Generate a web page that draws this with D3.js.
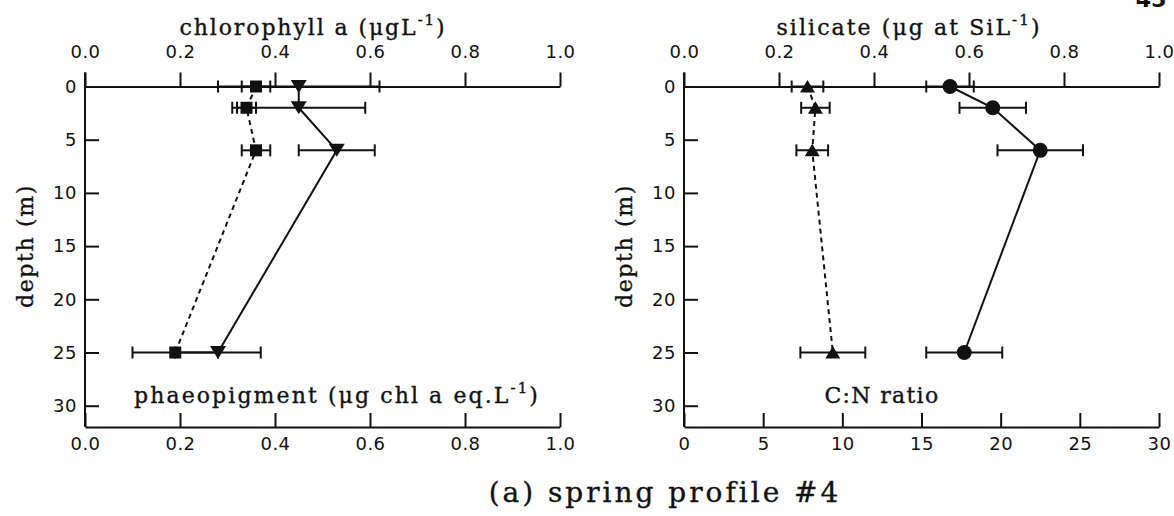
<!DOCTYPE html>
<html>
<head>
<meta charset="utf-8">
<script src="https://cdn.jsdelivr.net/npm/d3@7"></script>
<style>
  html, body { margin: 0; padding: 0; background: #fff; }
  svg { display: block; }
  .tick text { font-family: "DejaVu Sans", sans-serif; font-size: 18px; letter-spacing: 0.5px; fill: #111; }
  .ttl { font-family: "DejaVu Serif", serif; fill: #111; stroke: #111; stroke-width: 0.35px; }
</style>
</head>
<body>
<svg id="chart" width="1174" height="516"></svg>
<script>
// ---- data ----
const depths = [0, 2, 6, 25];
// left panel
const chlorophyll = [0.45, 0.45, 0.53, 0.28];      // inverted triangles, solid line
const chlorophyllErr = [0.17, 0.14, 0.08, 0.09];
const phaeopigment = [0.36, 0.34, 0.36, 0.19];     // squares, dashed line
const phaeopigmentErr = [0.03, 0.02, 0.03, 0.09];
// right panel
const silicate = [0.56, 0.65, 0.75, 0.59];         // circles, solid line
const silicateErr = [0.05, 0.07, 0.09, 0.08];
const cnRatio = [7.8, 8.3, 8.1, 9.4];              // triangles, dashed line
const cnRatioErr = [1.0, 0.9, 1.0, 2.05];

const depthTicks = [0, 5, 10, 15, 20, 25, 30];
const fracTicks = [0, 0.2, 0.4, 0.6, 0.8, 1.0];
const cnTicks = [0, 5, 10, 15, 20, 25, 30];

const svg = d3.select("#chart");
const ink = "#111";
const y = d3.scaleLinear().domain([0, 32]).range([86.5, 427]);

// stretch a text to a target width by letter-spacing
function fitWidth(sel, target) {
  const node = sel.node();
  const w = node.getComputedTextLength();
  const n = node.textContent.length;
  const ls = (target - w) / n;
  sel.style("letter-spacing", ls.toFixed(2) + "px");
}

function panel(opts) {
  const g = svg.append("g");
  const xTop = d3.scaleLinear().domain([0, 1]).range([opts.x0, opts.x1]);
  const xBot = d3.scaleLinear().domain(opts.botDomain).range([opts.x0, opts.x1]);

  const top = g.append("g").attr("transform", `translate(0,${y(0)})`)
    .call(d3.axisTop(xTop).tickValues(fracTicks).tickFormat(d3.format(".1f"))
      .tickSizeInner(14).tickSizeOuter(0).tickPadding(15));
  const bot = g.append("g").attr("transform", `translate(0,${y(32)})`)
    .call(d3.axisBottom(xBot).tickValues(opts.botTicks).tickFormat(opts.botFormat)
      .tickSizeInner(-14).tickSizeOuter(0).tickPadding(10));
  const left = g.append("g").attr("transform", `translate(${opts.x0},0)`)
    .call(d3.axisLeft(y).tickValues(depthTicks).tickSizeInner(-14).tickSizeOuter(0).tickPadding(8));
  left.select(".domain").attr("d", `M0,${y(0) - 14}V${y(32)}`);
  [top, bot, left].forEach(a => {
    a.selectAll("line,path").attr("stroke", ink).attr("stroke-width", 2);
  });

  const t1 = g.append("text").attr("class", "ttl").attr("x", opts.x0 + opts.topTitleDx).attr("y", 35)
    .attr("text-anchor", "middle").style("font-size", "22px");
  opts.topTitle(t1);
  fitWidth(t1, opts.topTitleW);
  const t2 = g.append("text").attr("class", "ttl").attr("x", opts.x0 + opts.botTitleDx).attr("y", 403)
    .attr("text-anchor", "middle").style("font-size", "22px");
  opts.botTitle(t2);
  fitWidth(t2, opts.botTitleW);

  const dl = g.append("text").attr("class", "ttl")
    .attr("transform", `translate(${opts.x0 - 52},${y(15)}) rotate(-90)`)
    .attr("text-anchor", "middle").style("font-size", "22px").text("depth (m)");
  fitWidth(dl, 124);

  opts.series.forEach(s => {
    const xs = s.axis === "top" ? xTop : xBot;
    const pts = depths.map((d, i) => ({ d, v: s.values[i], e: s.err[i] }));
    g.append("path").datum(pts)
      .attr("d", d3.line().x(p => xs(p.v)).y(p => y(p.d)))
      .attr("fill", "none").attr("stroke", ink).attr("stroke-width", 2)
      .attr("stroke-dasharray", s.dashed ? "5,4" : null);
    const eb = g.append("g").selectAll("g").data(pts).join("g");
    eb.append("line").attr("x1", p => xs(p.v - p.e)).attr("x2", p => xs(p.v + p.e))
      .attr("y1", p => y(p.d)).attr("y2", p => y(p.d)).attr("stroke", ink).attr("stroke-width", 2);
    eb.append("line").attr("x1", p => xs(p.v - p.e)).attr("x2", p => xs(p.v - p.e))
      .attr("y1", p => y(p.d) - 6).attr("y2", p => y(p.d) + 6).attr("stroke", ink).attr("stroke-width", 2);
    eb.append("line").attr("x1", p => xs(p.v + p.e)).attr("x2", p => xs(p.v + p.e))
      .attr("y1", p => y(p.d) - 6).attr("y2", p => y(p.d) + 6).attr("stroke", ink).attr("stroke-width", 2);
    const mk = g.append("g").selectAll("path").data(pts).join("path")
      .attr("transform", p => `translate(${xs(p.v)},${y(p.d)})`)
      .attr("fill", ink);
    if (s.marker === "square") mk.attr("d", "M-6,-6H6V6H-6Z");
    if (s.marker === "tridown") mk.attr("d", "M-8,-6.5H8L0,6.5Z");
    if (s.marker === "triup") mk.attr("d", "M-7.5,6H7.5L0,-6.5Z");
    if (s.marker === "circle") mk.attr("d", d3.symbol(d3.symbolCircle, Math.PI * 7.5 * 7.5)());
  });
}

function sup(t, before, exp, after) {
  t.append("tspan").text(before);
  t.append("tspan").attr("dy", -10).style("font-size", "15px").text(exp);
  t.append("tspan").attr("dy", 10).text(after);
}

panel({
  x0: 85, x1: 560, botDomain: [0, 1], botTicks: fracTicks, botFormat: d3.format(".1f"),
  topTitleDx: 228, botTitleDx: 252, topTitleW: 267, botTitleW: 406,
  topTitle: t => sup(t, "chlorophyll a (μgL", "-1", ")"),
  botTitle: t => sup(t, "phaeopigment (μg chl a eq.L", "-1", ")"),
  series: [
    { values: phaeopigment, err: phaeopigmentErr, axis: "bottom", dashed: true, marker: "square" },
    { values: chlorophyll, err: chlorophyllErr, axis: "top", dashed: false, marker: "tridown" }
  ]
});

panel({
  x0: 684, x1: 1159, botDomain: [0, 30], botTicks: cnTicks, botFormat: d3.format("d"),
  topTitleDx: 225, botTitleDx: 198, topTitleW: 265, botTitleW: 115,
  topTitle: t => sup(t, "silicate (μg at SiL", "-1", ")"),
  botTitle: t => t.text("C:N ratio"),
  series: [
    { values: cnRatio, err: cnRatioErr, axis: "bottom", dashed: true, marker: "triup" },
    { values: silicate, err: silicateErr, axis: "top", dashed: false, marker: "circle" }
  ]
});

const mt = svg.append("text").attr("class", "ttl").attr("x", 665).attr("y", 502)
  .attr("text-anchor", "middle").style("font-size", "28px").text("(a) spring profile #4");
fitWidth(mt, 352);

svg.append("text").attr("x", 1151).attr("y", 7).attr("text-anchor", "middle")
  .style("font-family", "DejaVu Sans, sans-serif").style("font-weight", "bold")
  .style("font-size", "22px").attr("fill", ink).text("45");
</script>
</body>
</html>
